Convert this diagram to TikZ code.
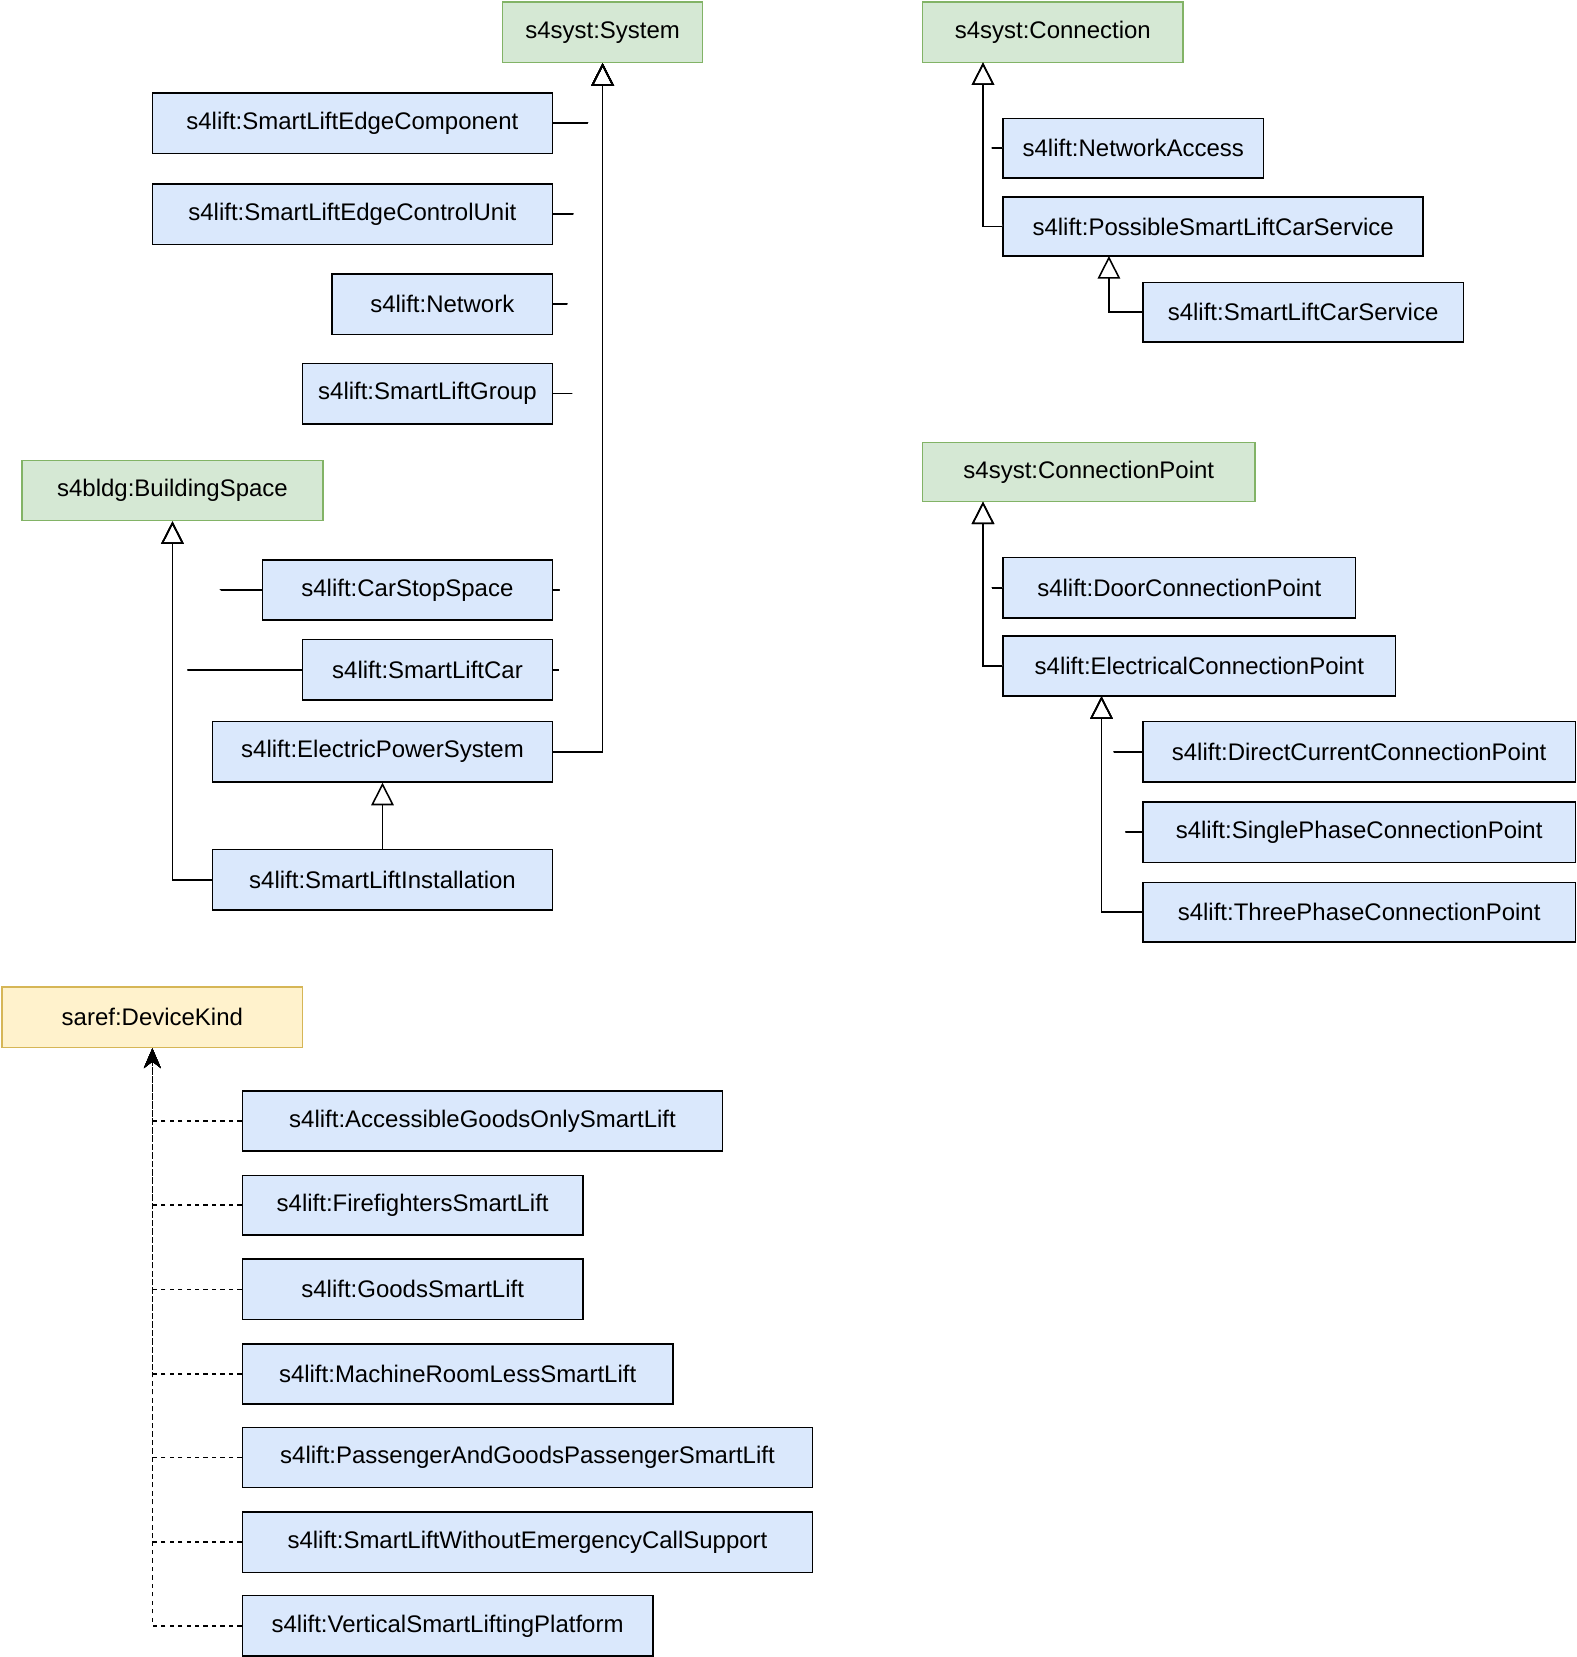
\documentclass[tikz,border=0pt]{standalone}
\usepackage{fontspec}
\setmainfont{Liberation Sans}
\usetikzlibrary{arrows.meta}
\definecolor{upfill}{HTML}{D5E8D4}
\definecolor{updraw}{HTML}{82B366}
\definecolor{clsfill}{HTML}{DAE8FC}
\definecolor{kindfill}{HTML}{FFF2CC}
\definecolor{kinddraw}{HTML}{D6B656}
\begin{document}
\begin{tikzpicture}[x=0.75pt,y=-0.75pt,line width=1.1pt,
  box/.style={rectangle,draw=black,fill=clsfill,inner sep=0pt,font=\fontsize{17}{20}\selectfont},
  upper/.style={box,draw=updraw,fill=upfill},
  kind/.style={box,draw=kinddraw,fill=kindfill},
  isa/.style={-{Triangle[open,length=16pt,width=16pt]},fill=white},
  dep/.style={-{Stealth[length=14pt,width=12pt]},dashed}]

       \useasboundingbox (0,0) rectangle (1490,1566);

       % top left
       \node[upper,minimum width=189*0.75pt,minimum height=57*0.75pt] (sys) at (569.5,30.5) {s4syst:System};
       \node[box,minimum width=378*0.75pt,minimum height=57*0.75pt] (edgecomp) at (333,116.5) {s4lift:SmartLiftEdgeComponent};
       \node[box,minimum width=378*0.75pt,minimum height=57*0.75pt] (edgectrl) at (333,202.5) {s4lift:SmartLiftEdgeControlUnit};
       \node[box,minimum width=208*0.75pt,minimum height=57*0.75pt] (network) at (418,287.5) {s4lift:Network};
       \node[box,minimum width=236*0.75pt,minimum height=57*0.75pt] (group) at (404,372) {s4lift:SmartLiftGroup};
       \node[upper,minimum width=284*0.75pt,minimum height=57*0.75pt] (bldg) at (163,463.5) {s4bldg:BuildingSpace};
       \node[box,minimum width=274*0.75pt,minimum height=57*0.75pt] (carstop) at (385,557.5) {s4lift:CarStopSpace};
       \node[box,minimum width=236*0.75pt,minimum height=57*0.75pt] (car) at (404,633) {s4lift:SmartLiftCar};
       \node[box,minimum width=321*0.75pt,minimum height=57*0.75pt] (power) at (361.5,710.5) {s4lift:ElectricPowerSystem};
       \node[box,minimum width=321*0.75pt,minimum height=57*0.75pt] (install) at (361.5,831.5) {s4lift:SmartLiftInstallation};

       \draw[isa] (edgecomp.east) -| (sys.south);
       \draw[isa] (edgectrl.east) -| (sys.south);
       \draw[isa] (network.east) -| (sys.south);
       \draw[isa] (group.east) -| (sys.south);
       \draw[isa] (carstop.east) -| (sys.south);
       \draw[isa] (car.east) -| (sys.south);
       \draw[isa] (power.east) -| (sys.south);
       \draw[isa] (carstop.west) -| (bldg.south);
       \draw[isa] (car.west) -| (bldg.south);
       \draw[isa] (install.west) -| (bldg.south);
       \draw[isa] (install.north) -- (power.south);

       % top right
       \node[upper,minimum width=246*0.75pt,minimum height=57*0.75pt] (conn) at (995,30.5) {s4syst:Connection};
       \node[box,minimum width=246*0.75pt,minimum height=56*0.75pt] (access) at (1071,140) {s4lift:NetworkAccess};
       \node[box,minimum width=397*0.75pt,minimum height=56*0.75pt] (possible) at (1146.5,214) {s4lift:PossibleSmartLiftCarService};
       \node[box,minimum width=303*0.75pt,minimum height=56*0.75pt] (carservice) at (1231.5,295) {s4lift:SmartLiftCarService};
       \coordinate (conn-in) at (929,59);
       \coordinate (possible-in) at (1048,242);

       \draw[isa] (access.west) -| (conn-in);
       \draw[isa] (possible.west) -| (conn-in);
       \draw[isa] (carservice.west) -| (possible-in);

       \node[upper,minimum width=314*0.75pt,minimum height=56*0.75pt] (cpoint) at (1029,446) {s4syst:ConnectionPoint};
       \node[box,minimum width=333*0.75pt,minimum height=57*0.75pt] (door) at (1114.5,555.5) {s4lift:DoorConnectionPoint};
       \node[box,minimum width=371*0.75pt,minimum height=57*0.75pt] (elec) at (1133.5,629.5) {s4lift:ElectricalConnectionPoint};
       \node[box,minimum width=409*0.75pt,minimum height=57*0.75pt] (dc) at (1284.5,710.5) {s4lift:DirectCurrentConnectionPoint};
       \node[box,minimum width=409*0.75pt,minimum height=57*0.75pt] (single) at (1284.5,786.5) {s4lift:SinglePhaseConnectionPoint};
       \node[box,minimum width=409*0.75pt,minimum height=56*0.75pt] (three) at (1284.5,862) {s4lift:ThreePhaseConnectionPoint};
       \coordinate (cpoint-in) at (929,474);
       \coordinate (elec-in) at (1041,658);

       \draw[isa] (door.west) -| (cpoint-in);
       \draw[isa] (elec.west) -| (cpoint-in);
       \draw[isa] (dc.west) -| (elec-in);
       \draw[isa] (single.west) -| (elec-in);
       \draw[isa] (three.west) -| (elec-in);

       % device kinds
       \node[kind,minimum width=284*0.75pt,minimum height=57*0.75pt] (devkind) at (144,961.5) {saref:DeviceKind};
       \node[box,minimum width=454*0.75pt,minimum height=57*0.75pt] (goodsonly) at (456,1059.5) {s4lift:AccessibleGoodsOnlySmartLift};
       \node[box,minimum width=322*0.75pt,minimum height=56*0.75pt] (fire) at (390,1139) {s4lift:FirefightersSmartLift};
       \node[box,minimum width=322*0.75pt,minimum height=57*0.75pt] (goods) at (390,1218.5) {s4lift:GoodsSmartLift};
       \node[box,minimum width=407*0.75pt,minimum height=57*0.75pt] (mrl) at (432.5,1298.5) {s4lift:MachineRoomLessSmartLift};
       \node[box,minimum width=539*0.75pt,minimum height=57*0.75pt] (passenger) at (498.5,1377.5) {s4lift:PassengerAndGoodsPassengerSmartLift};
       \node[box,minimum width=539*0.75pt,minimum height=57*0.75pt] (noemerg) at (498.5,1457.5) {s4lift:SmartLiftWithoutEmergencyCallSupport};
       \node[box,minimum width=388*0.75pt,minimum height=57*0.75pt] (platform) at (423,1536.5) {s4lift:VerticalSmartLiftingPlatform};

       \foreach \k in {goodsonly,fire,goods,mrl,passenger,noemerg,platform}
         \draw[dep] (\k.west) -| (devkind.south);
     \end{tikzpicture}
\end{document}
